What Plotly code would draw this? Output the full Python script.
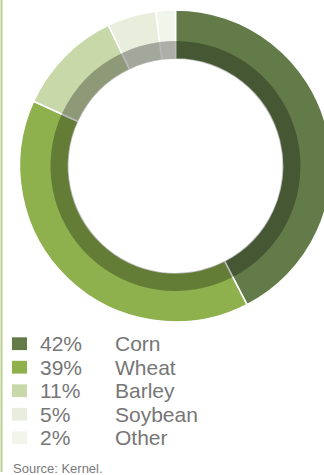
import plotly.graph_objects as go

# ---- data ----
categories = ["Corn", "Wheat", "Barley", "Soybean", "Other"]
shares = [42, 39, 11, 5, 2]
pct_labels = ["42%", "39%", "11%", "5%", "2%"]
colors = ["#637B48", "#8EB04D", "#C8D8A8", "#E8EDDC", "#F2F5EB"]
source_text = "Source: Kernel."

# ---- geometry (pixels) ----
W, H = 332, 475
cx, cy = 175.5, 166.0
r_out, r_mid, r_in = 156.0, 125.0, 107.0


def dom(r):
    return dict(
        x=[(cx - r) / W, min(1.0, (cx + r) / W)],
        y=[(H - (cy + r)) / H, (H - (cy - r)) / H],
    )


fig = go.Figure()
fig.add_trace(go.Pie(
    labels=categories, values=shares, sort=False, direction="clockwise",
    rotation=0, hole=r_in / r_out, domain=dom(r_out),
    marker=dict(colors=colors, line=dict(color="#ffffff", width=1.6)),
    textinfo="none", hoverinfo="label+percent", showlegend=False,
))
fig.add_trace(go.Pie(
    labels=categories, values=shares, sort=False, direction="clockwise",
    rotation=0, hole=r_in / r_mid, domain=dom(r_mid),
    marker=dict(colors=["rgba(0,0,0,0.29)"] * len(shares), line=dict(width=0)),
    textinfo="none", hoverinfo="skip", showlegend=False,
))

shapes = [dict(type="line", xref="paper", yref="paper",
               x0=1.5 / W, x1=1.5 / W, y0=(H - 472) / H, y1=1,
               line=dict(color="#B7CF8F", width=2))]
annotations = []
row0, step = 343.7, 23.5
font_main = dict(family="Liberation Sans, Arial, sans-serif", size=21, color="#767676")
for i, (cat, pct, col) in enumerate(zip(categories, pct_labels, colors)):
    yc = row0 + i * step
    shapes.append(dict(type="rect", xref="paper", yref="paper",
                       x0=12 / W, x1=27 / W,
                       y0=(H - (yc + 6.4)) / H, y1=(H - (yc - 6.4)) / H,
                       fillcolor=col, line=dict(width=0)))
    annotations.append(dict(text=pct, xref="paper", yref="paper",
                            x=37.5 / W, y=(H - yc) / H, xanchor="left", yanchor="middle",
                            showarrow=False, font=font_main))
    annotations.append(dict(text=cat, xref="paper", yref="paper",
                            x=112.5 / W, y=(H - yc) / H, xanchor="left", yanchor="middle",
                            showarrow=False, font=font_main))
annotations.append(dict(text=source_text, xref="paper", yref="paper",
                        x=11 / W, y=(H - 468) / H, xanchor="left", yanchor="middle",
                        showarrow=False,
                        font=dict(family="Liberation Sans, Arial, sans-serif", size=13, color="#7a7a7a")))

fig.update_layout(
    width=W, height=H, margin=dict(l=0, r=0, t=0, b=0),
    paper_bgcolor="#ffffff", plot_bgcolor="#ffffff",
    shapes=shapes, annotations=annotations, showlegend=False,
)

post = ("document.body.style.margin='0';document.body.style.overflow='hidden';"
        "document.documentElement.style.overflow='hidden';")
fig.write_html("out.html", post_script=post, config={"displayModeBar": False})
